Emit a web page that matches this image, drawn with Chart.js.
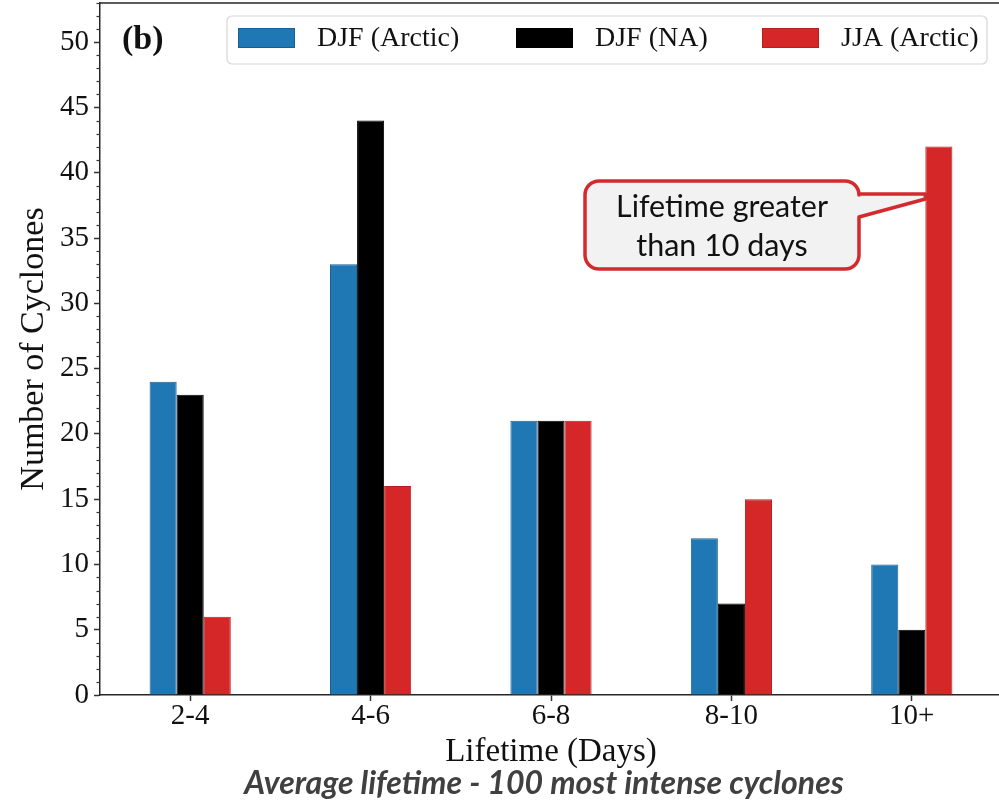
<!DOCTYPE html>
<html>
<head>
<meta charset="utf-8">
<script src="https://cdn.jsdelivr.net/npm/chart.js@4/dist/chart.umd.min.js"></script>
<style>
  html, body { margin: 0; padding: 0; background: #fff; overflow: hidden; }
  #wrap { width: 1002px; height: 800px; }
</style>
</head>
<body>
<div id="wrap"><canvas id="c" width="1002" height="800"></canvas></div>
<script>
// Cyclone lifetime bins and counts per season/region
const lifetimeBins = ['2-4', '4-6', '6-8', '8-10', '10+'];
const djfArctic = [24, 33, 21, 12, 10];
const djfNA = [23, 44, 21, 7, 5];
const jjaArctic = [6, 16, 21, 15, 42];
const seriesLabels = ['DJF (Arctic)', 'DJF (NA)', 'JJA (Arctic)'];
const yMajorTicks = [0, 5, 10, 15, 20, 25, 30, 35, 40, 45, 50];
const yAxisMax = 53;
const panelLabel = '(b)';
const calloutLines = ['Lifetime greater', 'than 10 days'];
const captionText = 'Average lifetime - 100 most intense cyclones';

const SERIF = '"Liberation Serif", "Times New Roman", serif';
const SANS = 'Lato, "Open Sans", sans-serif';
const SPINE = '#262626';

// Sets a font whose rendered width of `text` equals `width` px
function fitFont(ctx, style, text, width) {
  ctx.font = style + ' 30px ' + SANS;
  const size = 30 * width / ctx.measureText(text).width;
  ctx.font = style + ' ' + size.toFixed(2) + 'px ' + SANS;
}

// Extra drawing: top spine, minor ticks, panel label, legend, callout, caption
const decorations = {
  id: 'decorations',
  afterDraw(chart) {
    const ctx = chart.ctx;
    const area = chart.chartArea;
    const y = chart.scales.y;
    ctx.save();

    // top spine
    ctx.strokeStyle = SPINE;
    ctx.lineWidth = 1.5;
    ctx.beginPath();
    ctx.moveTo(area.left, area.top);
    ctx.lineTo(area.right, area.top);
    ctx.stroke();

    // minor y ticks every unit
    ctx.lineWidth = 1.2;
    ctx.strokeStyle = '#333';
    for (let v = 0; v <= yAxisMax; v++) {
      if (v % 5 === 0) continue;
      const py = Math.round(y.getPixelForValue(v)) + 0.5;
      ctx.beginPath();
      ctx.moveTo(area.left - 3.5, py);
      ctx.lineTo(area.left, py);
      ctx.stroke();
    }

    // panel label
    ctx.fillStyle = '#111';
    ctx.font = 'bold 34px ' + SERIF;
    ctx.textAlign = 'left';
    ctx.textBaseline = 'alphabetic';
    ctx.fillText(panelLabel, 122, 49);

    // legend frame
    ctx.beginPath();
    ctx.roundRect(227, 16, 760, 48, 5);
    ctx.fillStyle = 'rgba(255,255,255,0.9)';
    ctx.fill();
    ctx.strokeStyle = '#d6d6d6';
    ctx.lineWidth = 1.2;
    ctx.stroke();

    const patchX = [238, 516, 762];
    ctx.font = '28px ' + SERIF;
    ctx.textBaseline = 'middle';
    chart.data.datasets.forEach((ds, i) => {
      ctx.fillStyle = ds.backgroundColor;
      ctx.fillRect(patchX[i], 28, 57, 20);
      ctx.strokeStyle = ds.borderColor;
      ctx.lineWidth = 1;
      ctx.strokeRect(patchX[i] + 0.5, 28.5, 56, 19);
      ctx.fillStyle = '#111';
      ctx.fillText(ds.label, patchX[i] + 79, 39);
    });

    // callout pointing at the 10+ JJA bar
    const bar = chart.getDatasetMeta(2).data[4];
    const tipX = bar.x - bar.width / 2;
    const bx = 585, by = 181, bw = 274, bh = 88, r = 14;
    ctx.beginPath();
    ctx.moveTo(bx + r, by);
    ctx.lineTo(bx + bw - r, by);
    ctx.arcTo(bx + bw, by, bx + bw, by + r, r);
    ctx.lineTo(bx + bw, 194);
    ctx.lineTo(tipX, 194);
    ctx.lineTo(tipX, 199);
    ctx.lineTo(bx + bw, 217);
    ctx.lineTo(bx + bw, by + bh - r);
    ctx.arcTo(bx + bw, by + bh, bx + bw - r, by + bh, r);
    ctx.lineTo(bx + r, by + bh);
    ctx.arcTo(bx, by + bh, bx, by + bh - r, r);
    ctx.lineTo(bx, by + r);
    ctx.arcTo(bx, by, bx + r, by, r);
    ctx.closePath();
    ctx.fillStyle = '#f2f2f2';
    ctx.fill();
    ctx.strokeStyle = '#d42a2e';
    ctx.lineWidth = 3.5;
    ctx.lineJoin = 'round';
    ctx.stroke();

    ctx.fillStyle = '#111';
    ctx.textAlign = 'center';
    ctx.textBaseline = 'alphabetic';
    fitFont(ctx, 'normal', calloutLines[0], 212);
    ctx.fillText(calloutLines[0], 722, 217);
    ctx.fillText(calloutLines[1], 722, 256);

    // caption under the axis
    ctx.fillStyle = '#404040';
    fitFont(ctx, 'italic bold', captionText, 600);
    ctx.fillText(captionText, 544, 794);

    ctx.restore();
  }
};

new Chart(document.getElementById('c'), {
  type: 'bar',
  data: {
    labels: lifetimeBins,
    datasets: [
      { label: seriesLabels[0], data: djfArctic, backgroundColor: '#1f77b4', borderColor: '#1a5f90', borderWidth: 1 },
      { label: seriesLabels[1], data: djfNA, backgroundColor: '#000000', borderColor: '#000000', borderWidth: 1 },
      { label: seriesLabels[2], data: jjaArctic, backgroundColor: '#d62728', borderColor: '#b81f22', borderWidth: 1 }
    ]
  },
  options: {
    responsive: false,
    animation: false,
    layout: { padding: { top: 3, right: 0, left: 0, bottom: 0 } },
    datasets: { bar: { categoryPercentage: 0.45, barPercentage: 1.0 } },
    plugins: {
      legend: { display: false },
      tooltip: { enabled: false },
      title: { display: false }
    },
    scales: {
      x: {
        offset: true,
        grid: { offset: false, drawOnChartArea: false, drawTicks: true, tickLength: 6, tickColor: '#333', tickWidth: 1.5 },
        border: { display: true, color: SPINE, width: 1.5 },
        ticks: { color: '#111', padding: 1, font: { family: SERIF, size: 29, lineHeight: 1 } },
        title: { display: true, text: 'Lifetime (Days)', color: '#111', font: { family: SERIF, size: 33, lineHeight: 1 }, padding: { top: 0, bottom: 31 } },
        afterFit: (s) => { s.height = 105; s.paddingLeft = 0; s.paddingRight = 0; }
      },
      y: {
        min: 0,
        max: yAxisMax,
        grid: { drawOnChartArea: false, drawTicks: true, tickLength: 6, tickColor: '#333', tickWidth: 1.5 },
        border: { display: true, color: SPINE, width: 1.5 },
        ticks: { stepSize: 5, color: '#111', padding: 5, font: { family: SERIF, size: 29, lineHeight: 1 } },
        afterBuildTicks: (s) => { s.ticks = yMajorTicks.map(v => ({ value: v })); },
        title: { display: true, text: 'Number of Cyclones', color: '#111', font: { family: SERIF, size: 34, lineHeight: 1 }, padding: { top: 17, bottom: 0 } },
        afterFit: (s) => { s.width = 100; s.paddingTop = 0; s.paddingBottom = 0; }
      }
    }
  },
  plugins: [decorations]
});
</script>
</body>
</html>
